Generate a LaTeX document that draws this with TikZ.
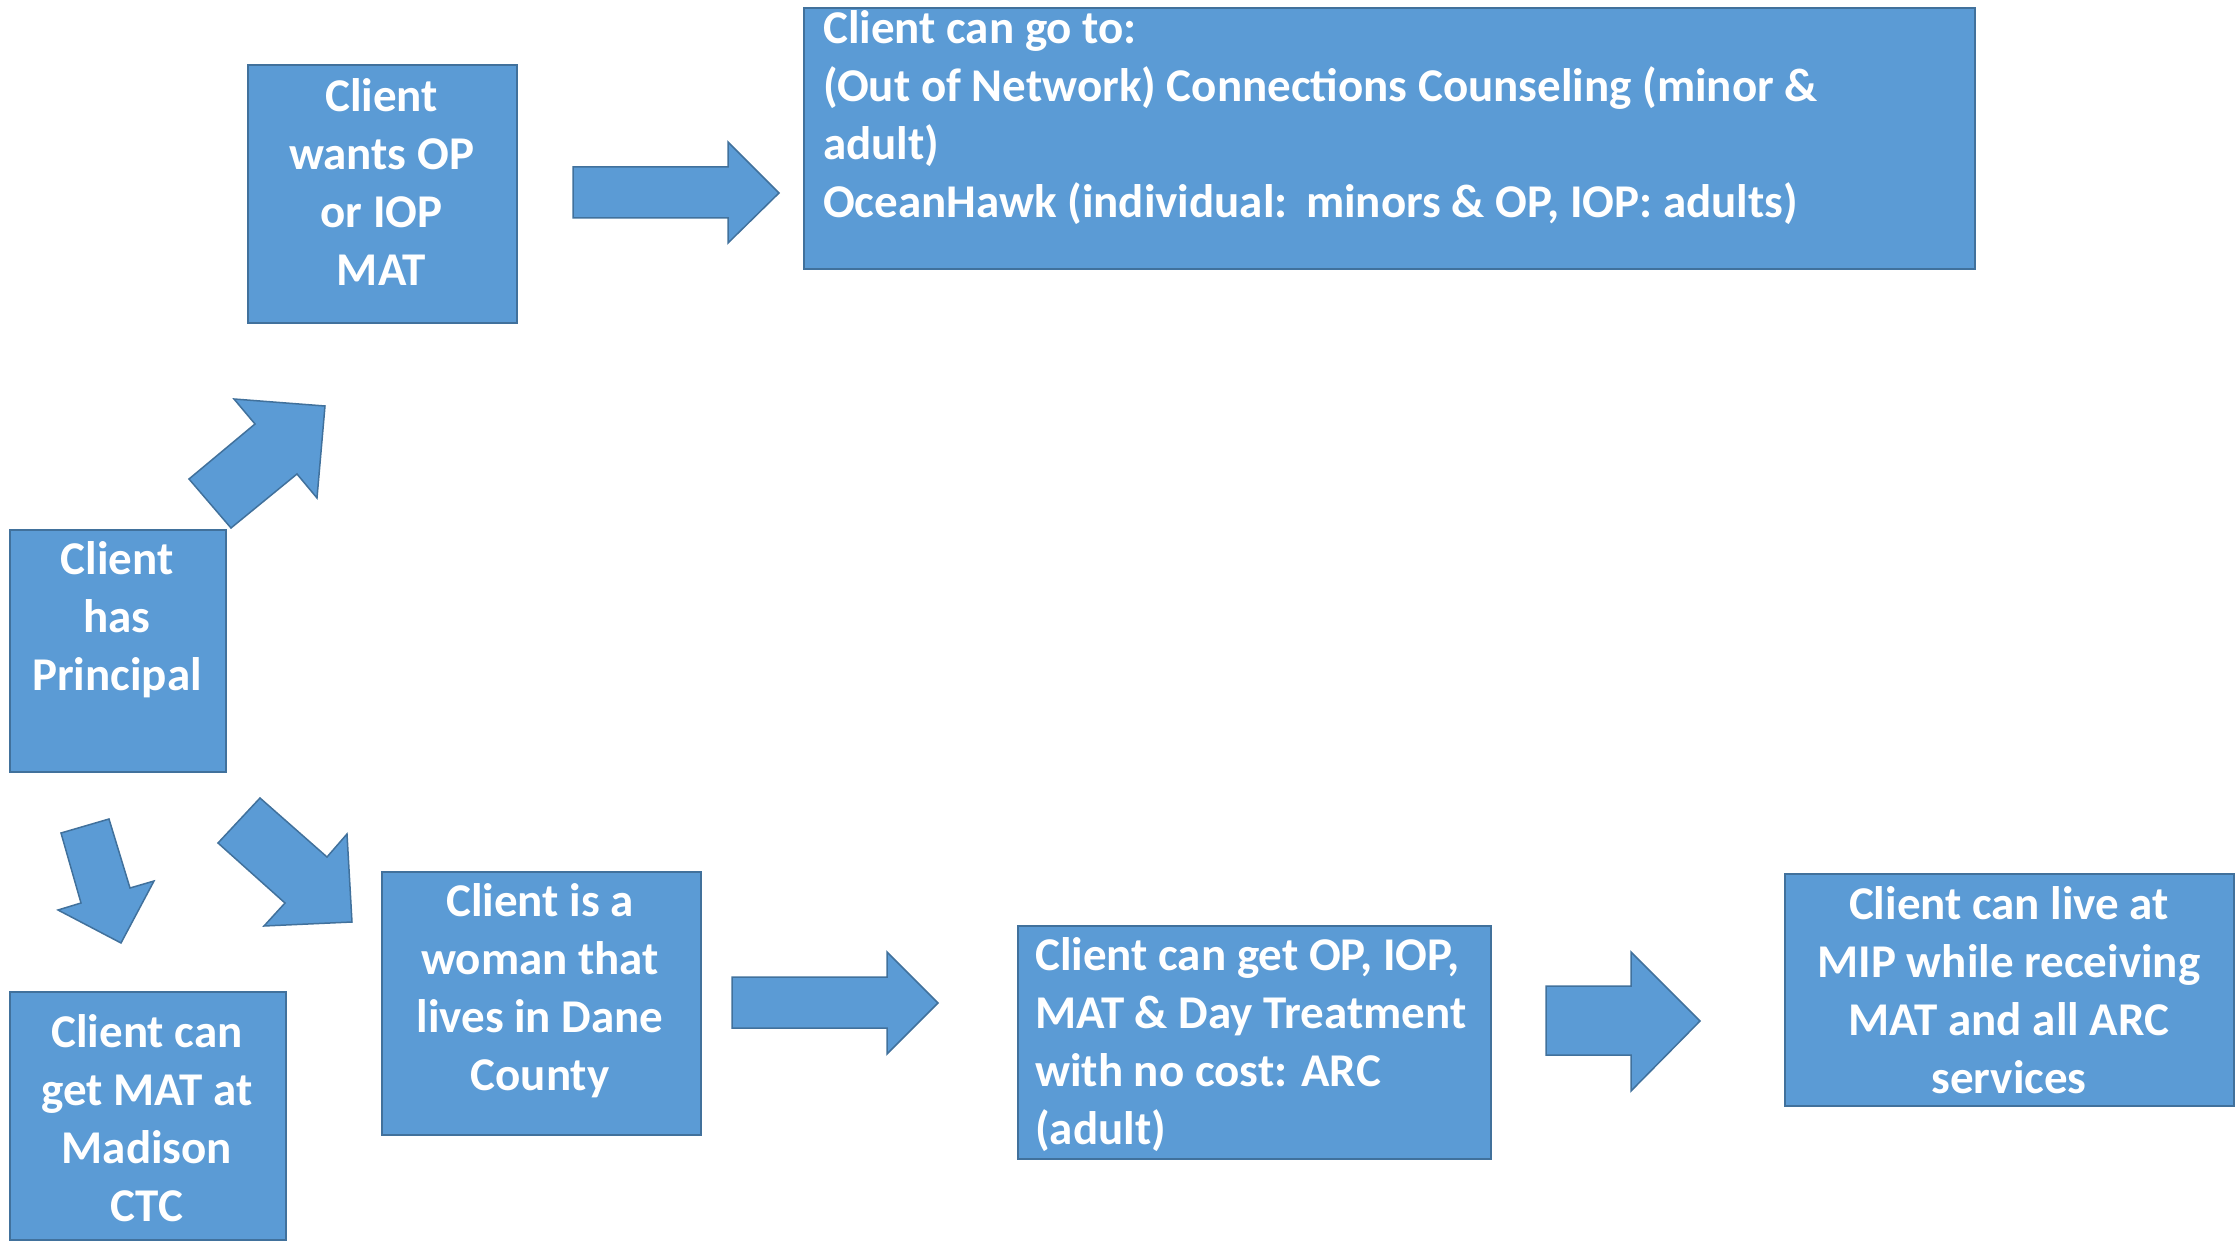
\documentclass[tikz,border=0pt]{standalone}
\usepackage{fontspec}
\setmainfont{Carlito}
\definecolor{boxblue}{HTML}{5B9BD5}
\definecolor{boxedge}{HTML}{41719C}
\begin{document}
\begin{tikzpicture}[x=1pt,y=-1pt,
 box/.style={draw=boxedge, fill=boxblue, line width=2pt, anchor=north west, inner sep=0pt},
 blockarrow/.style={draw=boxedge, fill=boxblue, line width=1.5pt, line join=miter},
 txt/.style={text=white, font=\fontsize{47}{58}\selectfont\bfseries, inner sep=0pt, align=center},
 ltxt/.style={txt, align=left, anchor=west}]
\useasboundingbox (0,0) rectangle (2236,1241);
% boxes
\node[box, minimum width=216pt, minimum height=242pt] (principal) at (9,529) {};
\node[box, minimum width=269pt, minimum height=258pt] (wants) at (247,64) {};
\node[box, minimum width=1171pt, minimum height=261pt] (goto) at (803,7) {};
\node[box, minimum width=276pt, minimum height=248pt] (madison) at (9,991) {};
\node[box, minimum width=319pt, minimum height=263pt] (woman) at (381,871) {};
\node[box, minimum width=473pt, minimum height=233pt] (arc) at (1017,925) {};
\node[box, minimum width=449pt, minimum height=232pt] (mip) at (1784,873) {};
% texts
\node[txt] (principalT) at (117,620) {Client\\has\\Principal};
\node[txt] (wantsT) at (381.5,182) {Client\\wants OP\\or IOP\\MAT};
\node[ltxt] (gotoT) at (823,118) {Client can go to:\\(Out of Network) Connections Counseling (minor \&\\adult)\\OceanHawk (individual:\ \,minors \& OP, IOP: adults)};
\node[txt] (madisonT) at (147,1118) {Client can\\get MAT at\\Madison\\CTC};
\node[txt] (womanT) at (540,991) {Client is a\\woman that\\lives in Dane\\County};
\node[ltxt] (arcT) at (1035,1045) {Client can get OP, IOP,\\MAT \& Day Treatment\\with no cost: ARC\\(adult)};
\node[txt] (mipT) at (2009,990) {Client can live at\\MIP while receiving\\MAT and all ARC\\services};
% block arrows
\draw[blockarrow] (573,167) -- (728,167) -- (728,142) -- (779,193) -- (728,243) -- (728,218) -- (573,218) -- cycle;
\draw[blockarrow] (732,977) -- (887,977) -- (887,952) -- (938,1003) -- (887,1054) -- (887,1028) -- (732,1028) -- cycle;
\draw[blockarrow] (1546,986) -- (1631,986) -- (1631,952) -- (1700,1021) -- (1631,1091) -- (1631,1055) -- (1546,1055) -- cycle;
\draw[blockarrow] (189,479) -- (255,424) -- (234,399) -- (325,406) -- (317,498) -- (297,474) -- (231,528) -- cycle;
\draw[blockarrow] (218,843) -- (260,798) -- (327,857) -- (347,834) -- (352,922) -- (264,926) -- (285,903) -- cycle;
\draw[blockarrow] (61,833) -- (109,819) -- (130,888) -- (154,881) -- (121,943) -- (58,910) -- (81,903) -- cycle;
\end{tikzpicture}
\end{document}
